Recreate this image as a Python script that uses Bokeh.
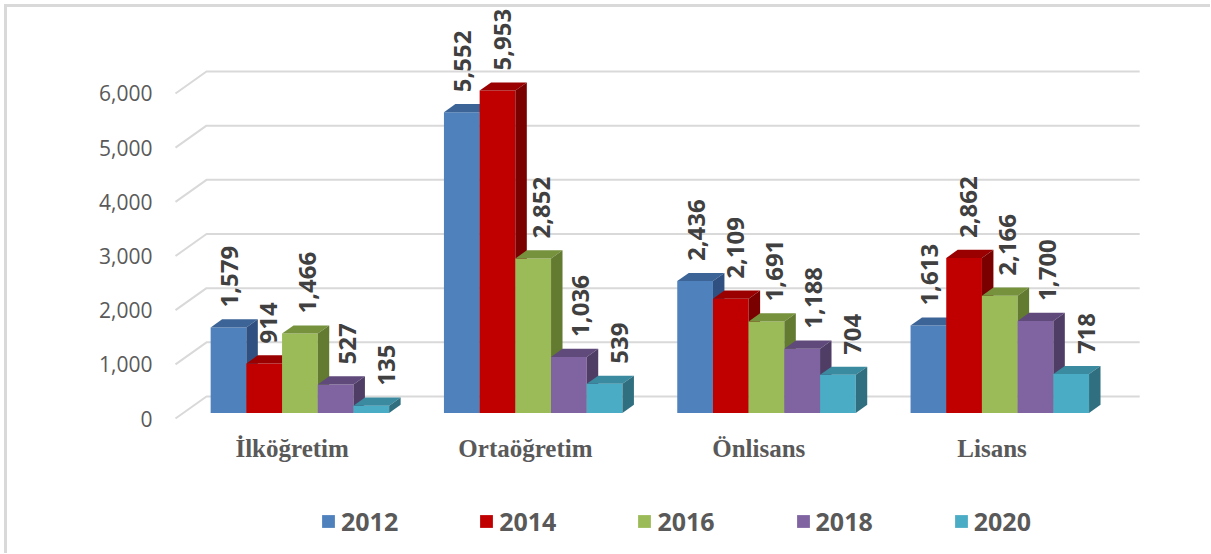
import math
from bokeh.plotting import figure
from bokeh.layouts import column
from bokeh.models import (Range1d, FixedTicker, NumeralTickFormatter, Legend, LegendItem,
                          CustomJSTickFormatter)
from bokeh.core.properties import value
from bokeh.embed import file_html
from bokeh.resources import INLINE

# ---------------- data ----------------
categories = ["İlköğretim", "Ortaöğretim", "Önlisans", "Lisans"]
years = ["2012", "2014", "2016", "2018", "2020"]
v2012 = [1579, 5552, 2436, 1613]
v2014 = [914, 5953, 2109, 2862]
v2016 = [1466, 2852, 1691, 2166]
v2018 = [527, 1036, 1188, 1700]
v2020 = [135, 539, 704, 718]
series = [v2012, v2014, v2016, v2018, v2020]
y_ticks = [0, 1000, 2000, 3000, 4000, 5000, 6000]

# ---------------- styles ----------------
colors = ["#4F81BD", "#C00000", "#9BBB59", "#8064A2", "#4BACC6"]
top_colors = ["#3C6496", "#9A0000", "#76923C", "#604A7B", "#3A8AA0"]
side_colors = ["#2F5080", "#7A0000", "#637A31", "#4F3D66", "#2F6F80"]
GRID = "#D9D9D9"

# ---------------- layout (pixels) ----------------
CANVAS_W = 1203
MAIN_H, LEG_H = 470, 76
FRAME_L, FRAME_R, FRAME_T, FRAME_B = 163, 1140, 0, 418
PX_PER_CAT = 233.3
PX_PER_VAL = 0.05417
WALL_DX_PX, WALL_DY_PX = 31, 22
FLOOR_INSET_PX = 5
ZERO_UP_PX = 7
BAR_W_PX = 35.7
Z_FRONT, Z_BACK = 0.25, 0.62

n = len(categories)
x0 = -0.5 - FLOOR_INSET_PX / PX_PER_CAT
x1 = x0 + (FRAME_R - FRAME_L) / PX_PER_CAT
y0 = -ZERO_UP_PX / PX_PER_VAL
y1 = y0 + (FRAME_B - FRAME_T) / PX_PER_VAL
DXd = WALL_DX_PX / PX_PER_CAT
DYd = WALL_DY_PX / PX_PER_VAL
BW = BAR_W_PX / PX_PER_CAT
floor_l, floor_r = -0.5, n - 0.5

p = figure(width=CANVAS_W, height=MAIN_H,
           x_range=Range1d(x0, x1), y_range=Range1d(y0, y1),
           output_backend="svg", toolbar_location=None,
           min_border_left=FRAME_L, min_border_right=CANVAS_W - FRAME_R,
           min_border_top=FRAME_T, min_border_bottom=MAIN_H - FRAME_B,
           outline_line_color=None, background_fill_color="white",
           border_fill_color="white")
p.xgrid.visible = False
p.ygrid.visible = False

# back wall + side wall gridlines
gx, gy = [], []
for t in y_ticks:
    gx.append([floor_l, floor_l + DXd, floor_r + DXd])
    gy.append([t, t + DYd, t + DYd])
p.multi_line(gx, gy, line_color=GRID, line_width=2)

# 3D bars
ddx = (Z_BACK - Z_FRONT) * DXd
ddy = (Z_BACK - Z_FRONT) * DYd
for j, vals in enumerate(series):
    lefts = [i + (j - 2.5) * BW + Z_FRONT * DXd for i in range(n)]
    rights = [l + BW for l in lefts]
    bottoms = [Z_FRONT * DYd] * n
    tops = [b + v for b, v in zip(bottoms, vals)]
    p.quad(left=lefts, right=rights, bottom=bottoms, top=tops,
           fill_color=colors[j], line_color=None)
    p.patches([[l, rr, rr + ddx, l + ddx] for l, rr in zip(lefts, rights)],
              [[t, t, t + ddy, t + ddy] for t in tops],
              fill_color=top_colors[j], line_color=None)
    p.patches([[rr, rr + ddx, rr + ddx, rr] for rr in rights],
              [[b, b + ddy, t + ddy, t] for b, t in zip(bottoms, tops)],
              fill_color=side_colors[j], line_color=None)
    p.text(x=[(l + rr) / 2 for l, rr in zip(lefts, rights)], y=tops,
           text=[f"{v:,}" for v in vals], angle=math.pi / 2,
           x_offset=1 + 3.5 * j, y_offset=-20,
           text_align="left", text_baseline="middle",
           text_font=value("Open Sans"), text_font_style="bold",
           text_font_size="24px", text_color="#404040")

# axes
xa = p.xaxis[0]
xa.ticker = FixedTicker(ticks=list(range(n)))
xa.formatter = CustomJSTickFormatter(args=dict(cats=categories),
                                     code="return cats[Math.round(tick)] || '';")
xa.axis_line_color = None
xa.major_tick_line_color = None
xa.minor_tick_line_color = None
xa.major_label_standoff = 3
xa.major_label_text_font = "Liberation Serif"
xa.major_label_text_font_style = "bold"
xa.major_label_text_font_size = "25px"
xa.major_label_text_color = "#595959"

ya = p.yaxis[0]
ya.ticker = FixedTicker(ticks=y_ticks)
ya.formatter = NumeralTickFormatter(format="0,0")
ya.axis_line_color = None
ya.major_tick_line_color = None
ya.minor_tick_line_color = None
ya.major_label_standoff = 12
ya.major_label_text_font = "Open Sans"
ya.major_label_text_font_size = "21px"
ya.major_label_text_color = "#595959"

# legend strip (its frame is aligned with the main frame by the column)
pl = figure(width=CANVAS_W, height=LEG_H, x_range=Range1d(0, 1), y_range=Range1d(0, 1),
            output_backend="svg", toolbar_location=None,
            min_border_left=0, min_border_right=0, min_border_top=0, min_border_bottom=0,
            outline_line_color=None, background_fill_color="white",
            border_fill_color="white")
pl.axis.visible = False
pl.xgrid.visible = False
pl.ygrid.visible = False
key_renderers = [pl.quad(left=[0], right=[0], bottom=[0], top=[0],
                         fill_color=colors[j], line_color=None) for j in range(len(years))]
legend = Legend(items=[LegendItem(label=yr, renderers=[key_renderers[j]])
                       for j, yr in enumerate(years)],
                orientation="horizontal", location=(150, 15),
                glyph_width=16, glyph_height=16, label_standoff=5, spacing=80,
                padding=0, margin=0, border_line_color=None,
                background_fill_alpha=0,
                label_text_font="Open Sans", label_text_font_style="bold",
                label_text_font_size="25px", label_text_color="#595959")
pl.add_layout(legend)

layout = column(p, pl, spacing=0,
                styles={"margin-left": "4px", "margin-top": "4px",
                        "border-left": "3px solid #D9D9D9",
                        "border-top": "3px solid #D9D9D9"})

open("out.html", "w").write(file_html(layout, INLINE))
